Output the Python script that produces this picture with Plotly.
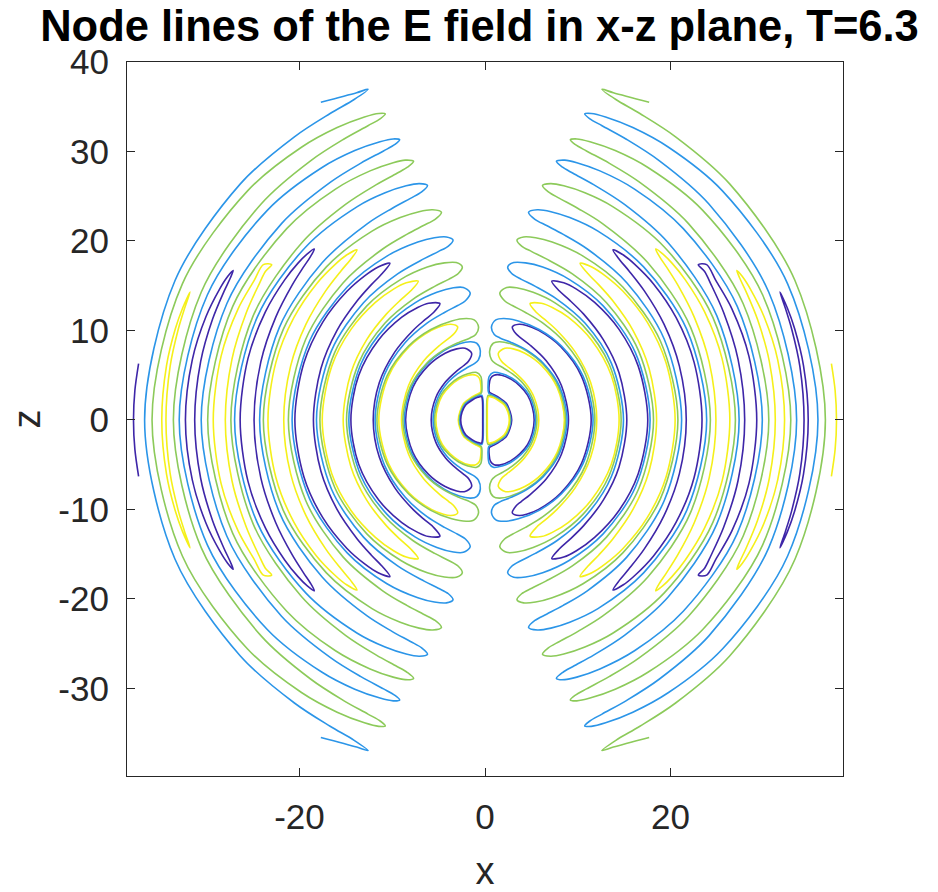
import plotly.graph_objects as go

# ---------------- data ----------------
# Each contour loop is given for the right half, upper quadrant (x>0, z>=0):
# path from the equator along one edge up to the tip and back along the other edge.
# Level colours (right half): P = lowest level, B, G, Y = highest level.
LEVEL_COLORS = {"P": "#3E26A8", "B": "#2B95E8", "G": "#8CCA5A", "Y": "#F5F01A"}
LEFT_SWAP = {"P": "Y", "Y": "P", "B": "G", "G": "B"}

Y1_X = [5.80, 5.31, 4.25, 3.12, 2.32, 1.76, 1.44, 2.15, 3.05, 4.30, 6.09, 7.78, 8.56]
Y1_Z = [0, 2.48, 4.25, 5.40, 6.05, 6.58, 7.45, 8.01, 7.94, 7.45, 6.09, 3.63, 0]
G1_X = [5.60, 5.12, 4.09, 2.97, 1.90, 1.11, 0.71, 0.50, 0.90, 1.54, 2.77, 4.46, 6.24, 7.92, 8.70]
G1_Z = [0, 2.39, 4.09, 5.14, 5.85, 6.31, 6.72, 7.70, 8.57, 8.74, 8.51, 7.72, 6.24, 3.69, 0]
P1_X = [9.00, 8.24, 6.60, 4.84, 3.88, 3.32, 2.95, 3.68, 4.48, 5.78, 8.17, 10.41, 11.45]
P1_Z = [0, 3.84, 6.60, 8.37, 9.15, 9.65, 10.40, 10.69, 10.55, 10.00, 8.17, 4.86, 0]
B1_X = [8.85, 8.04, 6.31, 4.50, 2.82, 1.61, 1.00, 0.70, 1.17, 2.00, 3.59, 5.84, 8.25, 10.56, 11.65]
B1_Z = [0, 3.75, 6.31, 7.79, 8.66, 9.16, 9.54, 10.40, 11.17, 11.33, 11.06, 10.11, 8.25, 4.92, 0]
Y2_X = [12.05, 11.40, 9.72, 7.79, 6.47, 5.58, 4.86, 6.08, 7.26, 8.97, 11.46, 13.62, 14.46]
Y2_Z = [0, 4.15, 7.60, 9.97, 11.20, 11.97, 13.00, 13.04, 12.57, 11.48, 8.95, 4.96, 0]
G2_X = [11.85, 10.84, 8.62, 6.25, 4.37, 2.95, 2.11, 1.60, 2.34, 3.41, 5.19, 7.55, 10.56, 13.38, 14.68]
G2_Z = [0, 5.05, 8.62, 10.82, 12.01, 12.78, 13.31, 14.20, 14.80, 14.77, 14.26, 13.08, 10.56, 6.24, 0]
B2_X = [14.93, 13.62, 10.80, 7.78, 5.43, 3.92, 2.88, 2.45, 3.10, 4.38, 6.22, 9.07, 12.74, 16.20, 17.80]
B2_Z = [0, 6.35, 10.80, 13.48, 14.92, 15.71, 16.36, 17.10, 17.58, 17.55, 17.08, 15.71, 12.74, 7.55, 0]
P2_X = [15.29, 14.45, 12.77, 10.64, 9.06, 8.00, 7.20, 8.49, 9.86, 11.82, 14.45, 16.52, 17.55]
P2_Z = [0, 5.26, 8.94, 11.82, 13.44, 14.43, 15.50, 15.32, 14.62, 13.13, 10.12, 6.01, 0]
Y3_X = [18.50, 17.69, 15.97, 13.78, 12.25, 11.06, 10.25, 11.52, 13.01, 14.88, 17.49, 19.53, 20.50]
Y3_Z = [0, 5.75, 9.98, 13.31, 15.12, 16.39, 17.50, 17.09, 16.07, 14.37, 10.93, 6.35, 0]
G3_X = [18.17, 16.56, 13.10, 9.42, 6.56, 5.04, 3.95, 3.45, 4.16, 5.46, 7.24, 10.57, 14.86, 18.91, 20.80]
G3_Z = [0, 7.72, 13.10, 16.32, 18.02, 18.81, 19.43, 20.10, 20.45, 20.36, 19.88, 18.31, 14.86, 8.82, 0]
P3_X = [21.70, 20.96, 19.30, 17.18, 15.53, 14.51, 13.80, 14.92, 16.18, 18.15, 20.61, 22.54, 23.40]
P3_Z = [0, 6.01, 10.70, 14.42, 16.65, 17.91, 19.00, 18.43, 17.36, 15.23, 11.43, 6.46, 0]
B3_X = [21.20, 19.33, 15.31, 11.03, 8.39, 6.64, 5.38, 4.70, 5.64, 7.11, 9.14, 12.18, 17.10, 21.74, 23.90]
B3_Z = [0, 9.01, 15.31, 19.10, 20.76, 21.72, 22.42, 23.20, 23.48, 23.27, 22.61, 21.09, 17.10, 10.14, 0]
Y4_X = [24.90, 24.17, 22.56, 20.78, 19.60, 18.85, 18.40, 19.19, 20.16, 21.58, 23.68, 25.56, 26.40]
Y4_Z = [0, 6.48, 11.49, 15.09, 17.04, 18.20, 19.10, 18.53, 17.52, 15.68, 12.07, 6.85, 0]
G4_X = [24.30, 22.17, 17.56, 12.67, 10.03, 8.04, 6.83, 6.20, 7.08, 8.50, 10.77, 13.77, 19.33, 24.57, 27.00]
G4_Z = [0, 10.34, 17.56, 21.94, 23.63, 24.76, 25.48, 26.20, 26.41, 26.16, 25.38, 23.84, 19.33, 11.46, 0]
P4_X = [28.00, 27.28, 25.73, 24.34, 23.68, 23.00, 23.90, 24.90, 26.62, 28.46, 29.30]
P4_Z = [0, 6.80, 12.00, 15.21, 16.58, 17.35, 17.35, 15.56, 12.41, 7.10, 0]
B4_X = [27.40, 24.99, 19.77, 15.04, 11.71, 9.49, 8.36, 7.70, 8.60, 9.90, 12.39, 16.12, 21.38, 27.20, 29.90]
B4_Z = [0, 11.65, 19.77, 24.08, 26.29, 27.56, 28.24, 28.90, 29.03, 28.75, 27.83, 25.80, 21.38, 12.68, 0]
Y5_X = [31.30, 30.66, 29.37, 28.15, 27.46, 27.15, 27.75, 28.63, 30.08, 31.56, 32.30]
Y5_Z = [0, 6.52, 11.27, 14.34, 15.86, 16.70, 16.02, 14.59, 11.55, 6.71, 0]
G5_X = [30.60, 27.84, 21.94, 16.62, 13.38, 10.94, 9.71, 9.20, 9.90, 11.32, 14.04, 17.61, 23.45, 29.94, 32.97]
G5_Z = [0, 12.98, 21.94, 26.60, 28.70, 30.06, 30.79, 31.30, 31.40, 31.09, 30.10, 28.18, 23.45, 13.96, 0]
P5_X = [34.40, 33.95, 33.08, 32.40, 31.80, 32.60, 33.38, 34.34, 34.85]
P5_Z = [0, 5.99, 10.11, 12.44, 14.30, 12.51, 10.21, 6.06, 0]
B5_X = [33.60, 30.60, 24.14, 18.81, 15.29, 12.62, 11.27, 10.75, 11.46, 13.00, 15.94, 19.79, 25.60, 32.63, 35.90]
B5_Z = [0, 14.27, 24.14, 28.96, 31.34, 32.88, 33.68, 34.20, 34.25, 33.86, 32.67, 30.47, 25.60, 15.21, 0]
# central structures (ring + D-shaped loops)
P0_X = [2.88, 2.70, 2.30, 1.56, 0.90, 0.48, 0.45, 0.60, 0.98, 1.80, 2.80, 3.75, 4.60, 5.10, 5.30]
P0_Z = [0, 0.93, 1.85, 2.45, 2.85, 3.10, 3.90, 4.65, 5.00, 5.00, 4.55, 3.80, 2.75, 1.45, 0]
B0_X = [2.78, 2.60, 2.22, 1.50, 0.85, 0.40, 0.33, 0.45, 0.90, 1.85, 2.88, 3.86, 4.73, 5.24, 5.45]
B0_Z = [0, 0.90, 1.78, 2.36, 2.74, 3.00, 3.90, 4.85, 5.30, 5.15, 4.68, 3.90, 2.83, 1.50, 0]
GD_X = [2.70, 2.55, 2.15, 1.45, 0.80, 0.35, 0.22, 0.18, 0.18]
GD_Z = [0, 0.90, 1.72, 2.28, 2.62, 2.75, 2.30, 1.20, 0]
YD_X = [2.62, 2.47, 2.08, 1.40, 0.78, 0.38, 0.28, 0.25, 0.25]
YD_Z = [0, 0.88, 1.66, 2.20, 2.52, 2.60, 2.20, 1.20, 0]
# open curves cut by the edge of the computed domain
G6_X = [36.70, 33.42, 26.38, 20.55, 16.70, 14.11, 12.60, 13.84, 17.70]
G6_Z = [0, 15.58, 26.38, 31.64, 34.24, 35.81, 36.95, 36.57, 35.50]
Y6_X = [37.90, 37.75, 37.35]
Y6_Z = [0, 3.30, 6.30]

CLOSED_LOOPS = [
    ("P", P0_X, P0_Z), ("B", B0_X, B0_Z), ("G", GD_X, GD_Z), ("Y", YD_X, YD_Z),
    ("Y", Y1_X, Y1_Z), ("G", G1_X, G1_Z), ("P", P1_X, P1_Z), ("B", B1_X, B1_Z),
    ("Y", Y2_X, Y2_Z), ("G", G2_X, G2_Z), ("P", P2_X, P2_Z), ("B", B2_X, B2_Z),
    ("Y", Y3_X, Y3_Z), ("G", G3_X, G3_Z), ("P", P3_X, P3_Z), ("B", B3_X, B3_Z),
    ("Y", Y4_X, Y4_Z), ("G", G4_X, G4_Z), ("P", P4_X, P4_Z), ("B", B4_X, B4_Z),
    ("Y", Y5_X, Y5_Z), ("G", G5_X, G5_Z), ("P", P5_X, P5_Z), ("B", B5_X, B5_Z),
]
OPEN_CURVES = [("G", G6_X, G6_Z), ("Y", Y6_X, Y6_Z)]

X_TICKS = [-20, 0, 20]
Z_TICKS = [-30, -20, -10, 0, 10, 20, 30, 40]
X_RANGE = [-38.6, 38.6]
Z_RANGE = [-39.8, 40.0]
TITLE = "Node lines of the E field in x-z plane, T=6.3"

FONT = "Liberation Sans, Arial, Helvetica, sans-serif"
AXIS_COLOR = "#262626"

# ---------------- figure ----------------
fig = go.Figure()


def add_curve(level, xs, zs):
    for side, sign in (("right", 1), ("left", -1)):
        lev = level if side == "right" else LEFT_SWAP[level]
        fig.add_trace(go.Scatter(
            x=[sign * v for v in xs], y=zs, mode="lines",
            line=dict(color=LEVEL_COLORS[lev], width=1.6, shape="spline", smoothing=0.9),
            showlegend=False, hoverinfo="skip"))


for level, X, Z in CLOSED_LOOPS:
    xs = list(X) + list(X[-2::-1])
    zs = list(Z) + [-v for v in Z[-2::-1]]
    add_curve(level, xs, zs)

for level, X, Z in OPEN_CURVES:
    xs = list(X[::-1]) + list(X[1:])
    zs = [-v for v in Z[::-1]] + list(Z[1:])
    add_curve(level, xs, zs)

axis_common = dict(
    showgrid=False, zeroline=False, showline=True, mirror="ticks",
    linecolor=AXIS_COLOR, linewidth=1.2, ticks="inside", ticklen=8,
    tickwidth=1.2, tickcolor=AXIS_COLOR,
    tickfont=dict(family=FONT, size=35, color=AXIS_COLOR),
    ticklabelstandoff=10,
)

fig.update_layout(
    width=938, height=892,
    margin=dict(l=127, r=95, t=62, b=116, autoexpand=False),
    paper_bgcolor="white", plot_bgcolor="white",
    title=dict(text=TITLE, x=479.5 / 938, xref="container", xanchor="center",
               y=1 - 26 / 892, yref="container", yanchor="middle",
               font=dict(family=FONT, size=43.5, color="black", weight="bold")),
    xaxis=dict(range=X_RANGE, tickvals=X_TICKS, ticktext=[str(v) for v in X_TICKS],
               title=dict(text="x", font=dict(family=FONT, size=38, color=AXIS_COLOR), standoff=35),
               **axis_common),
    yaxis=dict(range=Z_RANGE, tickvals=Z_TICKS, ticktext=[str(v) for v in Z_TICKS],
               title=dict(text="z", font=dict(family=FONT, size=38, color=AXIS_COLOR), standoff=6),
               **axis_common),
)

fig.write_html("out.html")
